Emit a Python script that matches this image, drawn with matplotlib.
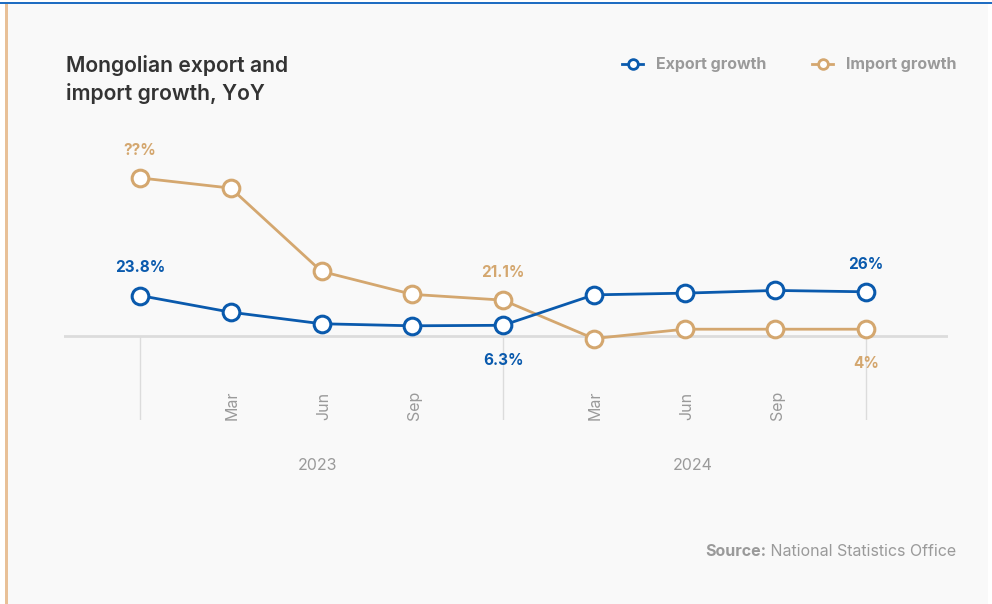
import matplotlib
matplotlib.use("Agg")
import matplotlib.pyplot as plt
from matplotlib.lines import Line2D
from matplotlib.patches import Rectangle
import matplotlib.transforms as mtransforms

plt.rcParams['font.family'] = ['Inter', 'DejaVu Sans']

# Quarterly observations, Dec 2022 .. Dec 2024
periods = ["Dec 2022", "Mar 2023", "Jun 2023", "Sep 2023", "Dec 2023",
           "Mar 2024", "Jun 2024", "Sep 2024", "Dec 2024"]
export_growth = [23.8, 14.0, 7.2, 6.0, 6.3, 24.2, 25.2, 26.8, 26.0]
import_growth = [93.0, 87.0, 38.0, 24.5, 21.1, -1.5, 4.0, 4.0, 4.0]

month_ticks = [1, 2, 3, 5, 6, 7]
month_labels = ["Mar", "Jun", "Sep", "Mar", "Jun", "Sep"]
year_bounds = [0, 4, 8]
year_centers = [1.96, 6.09]
year_labels = ["2023", "2024"]

# value labels: (series, index, text, above?)
value_labels = [
    ("import", 0, "??%", True),
    ("export", 0, "23.8%", True),
    ("import", 4, "21.1%", True),
    ("export", 4, "6.3%", False),
    ("export", 8, "26%", True),
    ("import", 8, "4%", False),
]

BLUE = "#0a5aad"
TAN = "#d4a76f"
GRAY_TXT = "#9a9a9a"
BG = "#f9f9f9"

W, H = 992, 604
fig = plt.figure(figsize=(W / 100, H / 100), dpi=100)
fig.patch.set_facecolor("white")

# card background and accent borders
fig.add_artist(Rectangle((7 / W, 0), (988 - 7) / W, 1 - 3 / H,
                         transform=fig.transFigure, facecolor=BG,
                         edgecolor="none", zorder=0))
fig.add_artist(Rectangle((0, 1 - 4 / H), 1, 2.5 / H, transform=fig.transFigure,
                         facecolor="#1f6dc2", edgecolor="none", zorder=1))
fig.add_artist(Rectangle((5 / W, 0), 2.5 / W, 1 - 4 / H, transform=fig.transFigure,
                         facecolor="#e8c097", edgecolor="none", zorder=1))

left_px, right_px, top_px, bottom_px = 64, 948, 140, 420
ax = fig.add_axes([left_px / W, 1 - bottom_px / H,
                   (right_px - left_px) / W, (bottom_px - top_px) / H])
ax.set_facecolor("none")
for s in ax.spines.values():
    s.set_visible(False)
ax.set_xticks([])
ax.set_yticks([])

scale = 1.7  # px per percentage point
zero_px = 336
ax.set_ylim(-(bottom_px - zero_px) / scale, (zero_px - top_px) / scale)
step = (866 - 140) / 8
ax.set_xlim((left_px - 140) / step, (right_px - 140) / step)

x = list(range(len(periods)))

ax.axhline(0, color="#dcdcdc", lw=2, zorder=1)
ymin = ax.get_ylim()[0]
ax.vlines(year_bounds, ymin, 0, color="#dcdcdc", lw=1, zorder=1)

ax.plot(x, import_growth, color=TAN, lw=2, marker="o", ms=12,
        mfc="white", mec=TAN, mew=2.2, zorder=3)
ax.plot(x, export_growth, color=BLUE, lw=2, marker="o", ms=12,
        mfc="white", mec=BLUE, mew=2.2, zorder=4)

series = {"export": (export_growth, BLUE), "import": (import_growth, TAN)}
for name, i, txt, above in value_labels:
    vals, col = series[name]
    ax.annotate(txt, (i, vals[i]), xytext=(0, 20 if above else -25),
                textcoords="offset points", ha="center", va="center",
                color=col, fontsize=11, fontweight="bold", zorder=5)

# month labels, rotated, ending at the bottom of the plot area
for t, lab in zip(month_ticks, month_labels):
    ax.text(t + 0.02, ymin, lab, rotation=90, ha="center", va="bottom",
            color=GRAY_TXT, fontsize=11.5)

trans = mtransforms.blended_transform_factory(ax.transData, fig.transFigure)
for c, lab in zip(year_centers, year_labels):
    ax.text(c, 1 - 466 / H, lab, transform=trans, ha="center", va="center",
            color=GRAY_TXT, fontsize=11.5)

# title
fig.text(66 / W, 1 - 65 / H, "Mongolian export and", ha="left", va="center",
         fontsize=15.2, fontweight="semibold", color="#333333")
fig.text(66 / W, 1 - 93 / H, "import growth, YoY", ha="left", va="center",
         fontsize=15.2, fontweight="semibold", color="#333333")

# legend
for x0, col, lab in [(622, BLUE, "Export growth"), (812, TAN, "Import growth")]:
    fig.add_artist(Line2D([x0 / W, (x0 + 21) / W], [1 - 64 / H] * 2,
                          transform=fig.transFigure, color=col, lw=2))
    fig.add_artist(Line2D([(x0 + 10.5) / W], [1 - 64 / H],
                          transform=fig.transFigure, marker="o", ms=7,
                          mfc="white", mec=col, mew=2))
    fig.text((x0 + 34) / W, 1 - 64 / H, lab, ha="left", va="center",
             fontsize=11.5, fontweight="bold", color=GRAY_TXT)

# source
src = fig.text(956 / W, 1 - 552 / H, " National Statistics Office", ha="right",
               va="center", fontsize=11.5, color=GRAY_TXT)
fig.canvas.draw()
bb = src.get_window_extent()
fig.text(bb.x0 / W, 1 - 552 / H, "Source:", ha="right", va="center",
         fontsize=11.5, fontweight="bold", color=GRAY_TXT)

fig.savefig("out.png", dpi=100, facecolor=fig.get_facecolor())
